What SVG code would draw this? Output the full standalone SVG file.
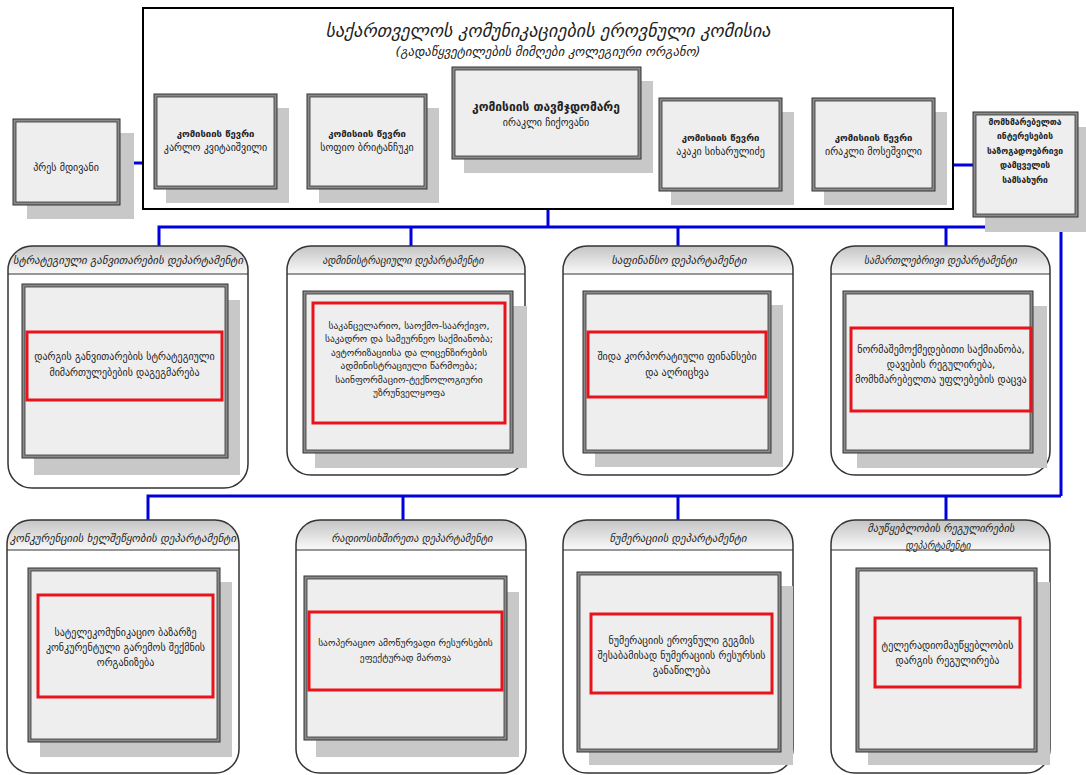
<svg xmlns="http://www.w3.org/2000/svg" width="1086" height="775" viewBox="0 0 1086 775">
<style>
text{font-family:"DejaVu Sans","Noto Sans",sans-serif;fill:#222;text-anchor:middle}
.t{font-size:18px;font-style:italic}
.st{font-size:12px;font-style:italic}
.hd{font-size:10.5px;font-style:italic}
.b{font-size:10px}
.b95{font-size:9.5px}
.bb{font-size:9.5px;font-weight:bold}
.ob{font-size:8.5px;font-weight:bold}
.sh{fill:#c8c8c8}
.fo{fill:#8a8a8a;stroke:#333;stroke-width:1}
.fi{fill:#eeeeee;stroke:#333;stroke-width:0.8}
.dw{fill:#fff}
.do{fill:none;stroke:#333;stroke-width:1.5}
.hp{fill:url(#hg)}
.sep{stroke:#333;stroke-width:1.2}
.red{fill:none;stroke:#e8141c;stroke-width:3}
.cn{fill:none;stroke:#0000dc;stroke-width:3}
</style>
<defs>
<linearGradient id="hg" x1="0" y1="0" x2="0" y2="1">
<stop offset="0" stop-color="#c4c4c4"/>
<stop offset="1" stop-color="#fafafa"/>
</linearGradient>
</defs>
<rect width="1086" height="775" fill="#fff"/>

<g id="connectors">
<path class="cn" d="M120,163 H143"/>
<path class="cn" d="M953,165 H973"/>
<path class="cn" d="M548,209 V227"/>
<path class="cn" d="M159,246 V227 H1061 V496"/>
<path class="cn" d="M411,227 V246 M678,227 V246 M946,227 V246"/>
<path class="cn" d="M148,520 V496 H1061"/>
<path class="cn" d="M403,496 V520 M678,496 V520 M946,496 V520"/>
</g>

<g id="commission">
<rect x="143" y="8" width="810" height="201" fill="#fff" stroke="#000" stroke-width="2"/>
<text class="t" x="548" y="37" textLength="445" lengthAdjust="spacingAndGlyphs">საქართველოს კომუნიკაციების ეროვნული კომისია</text>
<text class="st" x="548" y="56" textLength="305" lengthAdjust="spacingAndGlyphs">(გადაწყვეტილების მიმღები კოლეგიური ორგანო)</text>
</g>

<g id="press">
<rect class="sh" x="27" y="133" width="107" height="86"/>
<rect class="fo" x="13" y="119" width="107" height="86"/>
<rect class="fi" x="16" y="122" width="101" height="80"/>
<text class="b" x="66" y="171">პრეს მდივანი</text>
</g>

<g id="member1">
<rect class="sh" x="166" y="108" width="123" height="95"/>
<rect class="fo" x="154" y="94" width="123" height="95"/>
<rect class="fi" x="157" y="97" width="117" height="89"/>
<text class="bb" x="215.5" y="137">კომისიის წევრი</text>
<text class="b" x="215.5" y="151">კარლო კვიტაიშვილი</text>
</g>

<g id="member2">
<rect class="sh" x="319" y="108" width="120" height="95"/>
<rect class="fo" x="307" y="94" width="120" height="95"/>
<rect class="fi" x="310" y="97" width="114" height="89"/>
<text class="bb" x="367" y="137">კომისიის წევრი</text>
<text class="b" x="367" y="151">სოფიო ბრიტანჩუკი</text>
</g>

<g id="chair">
<rect class="sh" x="464" y="81" width="189" height="92"/>
<rect class="fo" x="452" y="67" width="189" height="92"/>
<rect class="fi" x="455" y="70" width="183" height="86"/>
<text x="546" y="111" style="font-size:12px;font-weight:bold">კომისიის თავმჯდომარე</text>
<text class="b" x="546" y="126">ირაკლი ჩიქოვანი</text>
</g>

<g id="member4">
<rect class="sh" x="671" y="112" width="123" height="93"/>
<rect class="fo" x="659" y="98" width="123" height="93"/>
<rect class="fi" x="662" y="101" width="117" height="87"/>
<text class="bb" x="720.5" y="141">კომისიის წევრი</text>
<text class="b" x="720.5" y="155">აკაკი სიხარულიძე</text>
</g>

<g id="member5">
<rect class="sh" x="824" y="112" width="123" height="93"/>
<rect class="fo" x="812" y="98" width="123" height="93"/>
<rect class="fi" x="815" y="101" width="117" height="87"/>
<text class="bb" x="873.5" y="141">კომისიის წევრი</text>
<text class="b" x="873.5" y="155">ირაკლი მოსეშვილი</text>
</g>

<g id="ombudsman">
<rect class="sh" x="985" y="127" width="105" height="105"/>
<rect class="fo" x="973" y="112" width="105" height="105"/>
<rect class="fi" x="976" y="115" width="99" height="99"/>
<text class="ob" x="1025" y="124.5">მომხმარებელთა</text>
<text class="ob" x="1025" y="139">ინტერესების</text>
<text class="ob" x="1025" y="153.5">საზოგადოებრივი</text>
<text class="ob" x="1025" y="168">დამცველის</text>
<text class="ob" x="1025" y="182.5">სამსახური</text>
</g>

<!-- Row 1 -->
<g id="dept1">
<rect class="dw" x="8" y="246" width="240" height="242" rx="24"/>
<path class="hp" d="M8,274 V270 A24,24 0 0 1 32,246 H224 A24,24 0 0 1 248,270 V274 Z"/>
<line class="sep" x1="8" y1="274" x2="248" y2="274"/>
<rect class="do" x="8" y="246" width="240" height="242" rx="24"/>
<text class="hd" x="128" y="264" textLength="230" lengthAdjust="spacingAndGlyphs">სტრატეგიული განვითარების დეპარტამენტი</text>
<rect class="sh" x="34" y="300" width="206" height="175"/>
<rect class="fo" x="22" y="284" width="206" height="174"/>
<rect class="fi" x="25" y="287" width="200" height="168"/>
<rect class="red" x="27" y="332" width="195" height="68"/>
<text class="b" x="124.5" y="359.5">დარგის განვითარების სტრატეგიული</text>
<text class="b" x="124.5" y="375.5">მიმართულებების დაგეგმარება</text>
</g>

<g id="dept2">
<rect class="dw" x="287" y="246" width="238" height="229" rx="24"/>
<path class="hp" d="M287,274 V270 A24,24 0 0 1 311,246 H501 A24,24 0 0 1 525,270 V274 Z"/>
<line class="sep" x1="287" y1="274" x2="525" y2="274"/>
<rect class="do" x="287" y="246" width="238" height="229" rx="24"/>
<text class="hd" x="403" y="264" textLength="161" lengthAdjust="spacingAndGlyphs">ადმინისტრაციული დეპარტამენტი</text>
<rect class="sh" x="315" y="306" width="212" height="162"/>
<rect class="fo" x="303" y="291" width="210" height="162"/>
<rect class="fi" x="306" y="294" width="204" height="156"/>
<rect class="red" x="313" y="303" width="192" height="120"/>
<text class="b95" x="409" y="328.5">საკანცელარიო, საოქმო-საარქივო,</text>
<text class="b95" x="409" y="342">საკადრო და სამეურნეო საქმიანობა;</text>
<text class="b95" x="409" y="355.5">ავტორიზაციისა და ლიცენზირების</text>
<text class="b95" x="409" y="369">ადმინისტრაციული წარმოება;</text>
<text class="b95" x="409" y="382.5">საინფორმაციო-ტექნოლოგიური</text>
<text class="b95" x="409" y="396">უზრუნველყოფა</text>
</g>

<g id="dept3">
<rect class="dw" x="563" y="246" width="230" height="229" rx="24"/>
<path class="hp" d="M563,274 V270 A24,24 0 0 1 587,246 H769 A24,24 0 0 1 793,270 V274 Z"/>
<line class="sep" x1="563" y1="274" x2="793" y2="274"/>
<rect class="do" x="563" y="246" width="230" height="229" rx="24"/>
<text class="hd" x="679" y="264" textLength="135" lengthAdjust="spacingAndGlyphs">საფინანსო დეპარტამენტი</text>
<rect class="sh" x="595" y="305" width="188" height="162"/>
<rect class="fo" x="583" y="291" width="188" height="162"/>
<rect class="fi" x="586" y="294" width="182" height="156"/>
<rect class="red" x="588" y="332" width="178" height="65"/>
<text class="b" x="677" y="359.5">შიდა კორპორატიული ფინანსები</text>
<text class="b" x="677" y="375.5">და აღრიცხვა</text>
</g>

<g id="dept4">
<rect class="dw" x="831" y="246" width="219" height="229" rx="24"/>
<path class="hp" d="M831,274 V270 A24,24 0 0 1 855,246 H1026 A24,24 0 0 1 1050,270 V274 Z"/>
<line class="sep" x1="831" y1="274" x2="1050" y2="274"/>
<rect class="do" x="831" y="246" width="219" height="229" rx="24"/>
<text class="hd" x="940.5" y="264" textLength="153" lengthAdjust="spacingAndGlyphs">სამართლებრივი დეპარტამენტი</text>
<rect class="sh" x="857" y="306" width="190" height="162"/>
<rect class="fo" x="843" y="291" width="190" height="162"/>
<rect class="fi" x="846" y="294" width="184" height="156"/>
<rect class="red" x="851" y="328" width="180" height="83"/>
<text class="b" x="941" y="352.5">ნორმაშემოქმედებითი საქმიანობა,</text>
<text class="b" x="941" y="367.5">დავების რეგულირება,</text>
<text class="b" x="941" y="382.5">მომხმარებელთა უფლებების დაცვა</text>
</g>

<!-- Row 2 -->
<g id="dept5">
<rect class="dw" x="7" y="520" width="232" height="253" rx="24"/>
<path class="hp" d="M7,550 V544 A24,24 0 0 1 31,520 H215 A24,24 0 0 1 239,544 V550 Z"/>
<line class="sep" x1="7" y1="550" x2="239" y2="550"/>
<rect class="do" x="7" y="520" width="232" height="253" rx="24"/>
<text class="hd" x="123" y="542" textLength="226" lengthAdjust="spacingAndGlyphs">კონკურენციის ხელშეწყობის დეპარტამენტი</text>
<rect class="sh" x="40" y="582" width="192" height="175"/>
<rect class="fo" x="28" y="568" width="192" height="174"/>
<rect class="fi" x="31" y="571" width="186" height="168"/>
<rect class="red" x="38" y="595" width="175" height="102"/>
<text class="b" x="125.5" y="635.5">სატელეკომუნიკაციო ბაზარზე</text>
<text class="b" x="125.5" y="650.5">კონკურენტული გარემოს შექმნის</text>
<text class="b" x="125.5" y="665.5">ორგანიზება</text>
</g>

<g id="dept6">
<rect class="dw" x="296" y="520" width="230" height="253" rx="24"/>
<path class="hp" d="M296,550 V544 A24,24 0 0 1 320,520 H502 A24,24 0 0 1 526,544 V550 Z"/>
<line class="sep" x1="296" y1="550" x2="526" y2="550"/>
<rect class="do" x="296" y="520" width="230" height="253" rx="24"/>
<text class="hd" x="412" y="542" textLength="161" lengthAdjust="spacingAndGlyphs">რადიოსიხშირეთა დეპარტამენტი</text>
<rect class="sh" x="316" y="592" width="203" height="165"/>
<rect class="fo" x="304" y="576" width="203" height="164"/>
<rect class="fi" x="307" y="579" width="197" height="158"/>
<rect class="red" x="309" y="612" width="193" height="78"/>
<text class="b95" x="405.5" y="645.5">საოპერაციო ამოწურვადი რესურსების</text>
<text class="b95" x="405.5" y="660.5">ეფექტურად მართვა</text>
</g>

<g id="dept7">
<rect class="dw" x="563" y="520" width="230" height="253" rx="24"/>
<path class="hp" d="M563,550 V544 A24,24 0 0 1 587,520 H769 A24,24 0 0 1 793,544 V550 Z"/>
<line class="sep" x1="563" y1="550" x2="793" y2="550"/>
<rect class="do" x="563" y="520" width="230" height="253" rx="24"/>
<text class="hd" x="678" y="542" textLength="137" lengthAdjust="spacingAndGlyphs">ნუმერაციის დეპარტამენტი</text>
<rect class="sh" x="589" y="586" width="204" height="179"/>
<rect class="fo" x="577" y="572" width="204" height="180"/>
<rect class="fi" x="580" y="575" width="198" height="174"/>
<rect class="red" x="591" y="614" width="181" height="79"/>
<text class="b" x="681.5" y="643.5">ნუმერაციის ეროვნული გეგმის</text>
<text class="b" x="681.5" y="658.5">შესაბამისად ნუმერაციის რესურსის</text>
<text class="b" x="681.5" y="673.5">განაწილება</text>
</g>

<g id="dept8">
<rect class="dw" x="831" y="520" width="219" height="253" rx="24"/>
<path class="hp" d="M831,550 V544 A24,24 0 0 1 855,520 H1026 A24,24 0 0 1 1050,544 V550 Z"/>
<line class="sep" x1="831" y1="550" x2="1050" y2="550"/>
<rect class="do" x="831" y="520" width="219" height="253" rx="24"/>
<text class="hd" x="941" y="532" textLength="147" lengthAdjust="spacingAndGlyphs">მაუწყებლობის რეგულირების</text>
<text class="hd" x="938" y="549" textLength="65" lengthAdjust="spacingAndGlyphs">დეპარტამენტი</text>
<rect class="sh" x="868" y="582" width="182" height="183"/>
<rect class="fo" x="856" y="568" width="181" height="184"/>
<rect class="fi" x="859" y="571" width="175" height="178"/>
<rect class="red" x="875" y="618" width="145" height="69"/>
<text class="b" x="947.5" y="648.5">ტელერადიომაუწყებლობის</text>
<text class="b" x="947.5" y="663.5">დარგის რეგულირება</text>
</g>
</svg>
